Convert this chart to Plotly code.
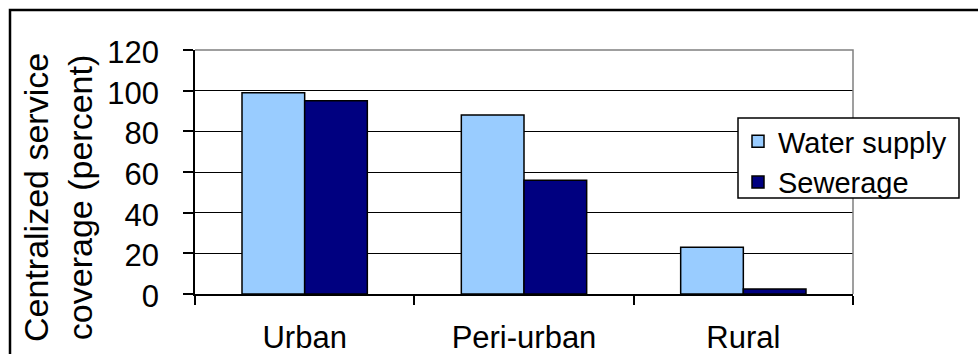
import plotly.graph_objects as go

# Coverage of centralized services by settlement type (percent)
categories = ["Urban", "Peri-urban", "Rural"]
water_supply = [99, 88, 23]
sewerage = [95, 56, 2.5]
y_ticks = [0, 20, 40, 60, 80, 100, 120]

W, H = 978, 354
ML, MR, MT, MB = 195, 125, 50, 60
PW, PH = W - ML - MR, H - MT - MB


def px_x(x):
    return (x - ML) / PW


def px_y(y):
    return (H - MB - y) / PH


FONT = "Arial, Liberation Sans, sans-serif"

fig = go.Figure()
fig.add_trace(go.Bar(
    name="Water supply", x=categories, y=water_supply,
    marker=dict(color="#99CCFF", line=dict(color="#000000", width=1.5)),
))
fig.add_trace(go.Bar(
    name="Sewerage", x=categories, y=sewerage,
    marker=dict(color="#000080", line=dict(color="#000000", width=1.5)),
))

shapes = [
    # gray plot-area border on the top and right
    dict(type="path", xref="paper", yref="paper",
         path="M 0,1 L 1,1 L 1,0", line=dict(color="#808080", width=1.5),
         layer="above"),
    # legend box
    dict(type="rect", xref="paper", yref="paper",
         x0=px_x(738), x1=px_x(959), y0=px_y(198), y1=px_y(118),
         line=dict(color="#000000", width=1.5), fillcolor="white",
         layer="above"),
    # outer chart frame
    dict(type="rect", xref="paper", yref="paper",
         x0=px_x(10), x1=px_x(1000), y0=px_y(380), y1=px_y(10),
         line=dict(color="#000000", width=2.5), fillcolor="rgba(0,0,0,0)",
         layer="above"),
]

fig.update_layout(
    width=W, height=H,
    margin=dict(l=ML, r=MR, t=MT, b=MB, pad=0, autoexpand=False),
    paper_bgcolor="white", plot_bgcolor="white",
    barmode="group", bargap=1.5 / 3.5, bargroupgap=0,
    font=dict(family=FONT, color="#000000", size=31),
    showlegend=True,
    legend=dict(
        x=px_x(738), y=px_y(116), xanchor="left", yanchor="top",
        bgcolor="rgba(0,0,0,0)", borderwidth=0,
        font=dict(size=29, family=FONT, color="#000000"),
        tracegroupgap=0,
    ),
    shapes=shapes,
    annotations=[dict(
        text="Centralized service<br>coverage (percent)",
        xref="paper", yref="paper", x=px_x(58), y=px_y(198),
        xanchor="center", yanchor="middle", textangle=-90, showarrow=False,
        font=dict(size=34, family=FONT, color="#000000"),
    )],
)

fig.update_xaxes(
    automargin=False,
    showline=True, linecolor="#000000", linewidth=1.5,
    ticks="outside", ticklen=9, tickwidth=1.5, tickcolor="#000000",
    tickson="boundaries", showgrid=False,
    tickfont=dict(size=31), ticklabelstandoff=15,
)
fig.update_yaxes(
    automargin=False,
    range=[0, 120], tickvals=y_ticks,
    showline=True, linecolor="#000000", linewidth=1.5,
    ticks="outside", ticklen=10, tickwidth=1.5, tickcolor="#000000",
    showgrid=True, gridcolor="#000000", gridwidth=1.2,
    zeroline=False,
    tickfont=dict(size=31), ticklabelstandoff=18, ticklabelshift=2,
)

fig.write_html("out.html")
